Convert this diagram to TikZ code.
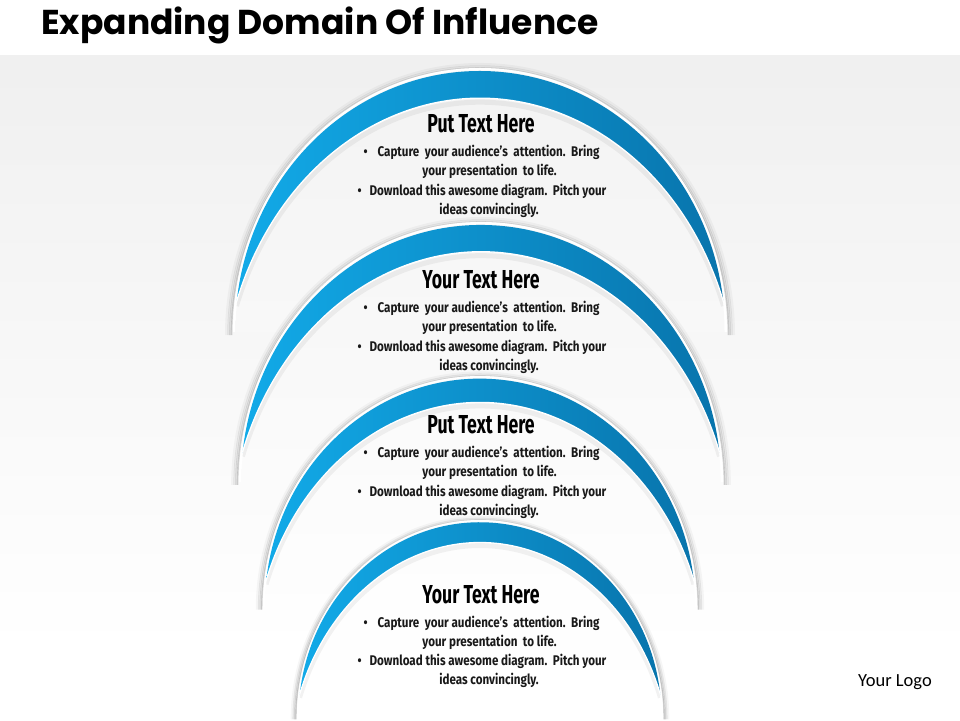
\documentclass[tikz,border=0pt]{standalone}
\usepackage{fontspec}
\newfontfamily\titlefont{Poppins}
\newfontfamily\headfont[FakeStretch=0.68]{Fira Sans}
\newfontfamily\bodyfont[FakeStretch=0.83]{Fira Sans}
\newfontfamily\logofont{Carlito}
\definecolor{bluel}{RGB}{18,170,232}
\definecolor{bluer}{RGB}{8,116,172}
\tikzset{
  headtxt/.style={anchor=base, inner sep=0pt, text=black, font=\headfont\bfseries\fontsize{26}{28}\selectfont},
  bodytxt/.style={anchor=base, inner sep=0pt, text=black!90, font=\bodyfont\bfseries\fontsize{14}{16}\selectfont},
  bluebar/.style={left color=bluel, right color=bluer},
}
% #1 cx, #2 base Y, #3 a, #4 b, #5 interior top colour, #6 interior bottom colour
\newcommand\archpiece[6]{%
\begin{scope}[shift={(#1,#2)}, xscale=#3/247, yscale=#4/262]
  \foreach \k/\o/\w in {6.5/0.035/3, 4.5/0.07/2.4, 2.8/0.11/2, 1.4/0.16/1.4}{
    \draw[black, opacity=\o, line width=\w pt] (-247-\k,-3) arc[start angle=180, end angle=0, x radius=247+\k, y radius=262+\k];
  }
  \fill[white] (-247,0) arc[start angle=180, end angle=0, x radius=247, y radius=262] -- cycle;
  \shade[top color=#5, bottom color=#6] (-244.5,0) arc[start angle=180, end angle=0, x radius=244.5, y radius=259.5] -- cycle;
  \begin{scope}
    \clip (-244.5,0) arc[start angle=180, end angle=0, x radius=244.5, y radius=259.5] -- cycle;
    \draw[black, opacity=0.05, line width=5pt] (243.47,25.8) arc[start angle=19.3, end angle=160.7, x radius=258, y radius=302];
  \end{scope}
  \shade[bluebar] (-243.35,30) arc[start angle=173.35, end angle=6.65, x radius=245, y radius=259]
     -- (243.47,29.8) arc[start angle=19.3, end angle=160.7, x radius=258, y radius=302] -- cycle;
  \draw[white, line width=1.3pt] (243.47,29.8) arc[start angle=19.3, end angle=160.7, x radius=258, y radius=302];
\end{scope}}
% #1 name prefix, #2 heading, #3 heading baseline Y
\newcommand\textblock[3]{%
  \node[headtxt] (#1h) at (481,#3) {#2};
  \node[bodytxt] (#1a) at (481.5,#3-24) {•\hspace{10pt}Capture\ \ your audience’s\ \ attention.\ \ Bring};
  \node[bodytxt] (#1b) at (489.5,#3-43) {your presentation\ \ to life.};
  \node[bodytxt] (#1c) at (482,#3-62.5) {•\hspace{8pt}Download this awesome diagram.\ \ Pitch your};
  \node[bodytxt] (#1d) at (489,#3-81.5) {ideas\ convincingly.};
}
\begin{document}
\begin{tikzpicture}[x=1pt, y=1pt]
  \useasboundingbox (0,0) rectangle (960,720);
  \fill[white] (0,0) rectangle (960,720);
  \shade[top color=black!6, bottom color=white] (0,70) rectangle (960,664);
  \node[anchor=base west, inner sep=0pt, font=\titlefont\bfseries\fontsize{34.5}{38}\selectfont] (title) at (41,685) {Expanding Domain Of Influence};

  \archpiece{480}{388}{247}{264}{black!4.7}{black!2.7}
  \archpiece{481}{238}{242}{260}{black!3.5}{black!1.5}
  \archpiece{480}{113}{217}{231}{black!2}{black!0.5}
  \archpiece{480}{3}{183}{197}{black!0.8}{white}

  \textblock{t1}{Put Text Here}{587}
  \textblock{t2}{Your Text Here}{431}
  \textblock{t3}{Put Text Here}{286}
  \textblock{t4}{Your Text Here}{117}

  \node[anchor=base west, inner sep=0pt, font=\logofont\fontsize{18.5}{20}\selectfont] (logo) at (858,34) {Your Logo};
\end{tikzpicture}
\end{document}
